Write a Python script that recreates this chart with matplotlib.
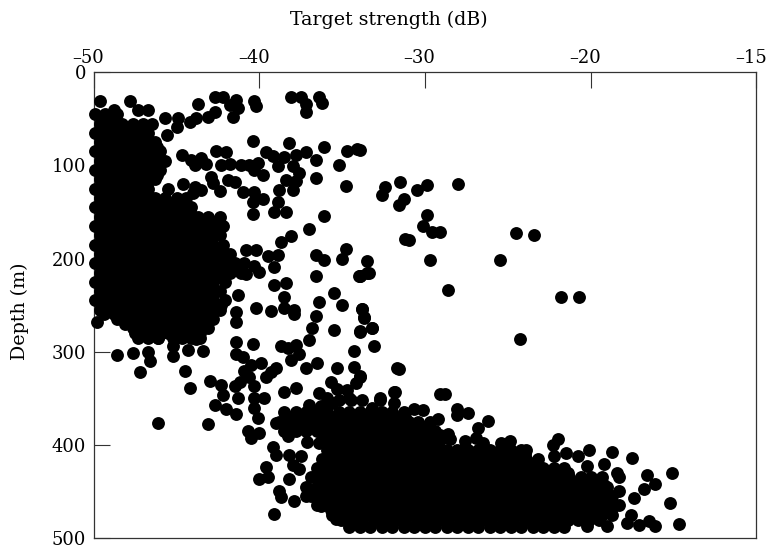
import matplotlib
matplotlib.use('Agg')
import matplotlib.pyplot as plt
from matplotlib.transforms import ScaledTranslation

# x positions are even on the page, the printed labels are not (-20 then -15)
x_tick_pos = [-50, -40, -30, -20, -10]
x_tick_labels = ['\u201350', '\u201340', '\u201330', '\u201320', '\u201315']
y_ticks = [0, 100, 200, 300, 400, 500]

shallow_depths = [45, 55, 65, 75, 85, 95, 105, 115, 125, 135, 145, 155, 165, 175, 185, 195, 205, 215, 225, 235, 245, 255, 265, 275, 285]
shallow_strengths = [
    [-49.9, -49.3, -48.6],
    [-49.6, -48.9, -48.3, -47.6, -47.0, -46.5],
    [-49.9, -49.3, -48.6, -48.0, -47.3, -46.7],
    [-49.6, -48.9, -48.3, -47.6, -47.0, -46.3],
    [-49.9, -49.3, -48.6, -48.0, -47.3, -46.7, -46.0],
    [-49.6, -48.9, -48.3, -47.6, -47.0, -46.3, -45.7],
    [-49.9, -49.3, -48.6, -48.0, -47.3, -46.7, -46.0],
    [-49.6, -48.9, -48.3, -47.6, -47.0, -46.3],
    [-49.9, -49.3, -48.6, -48.0, -47.3, -46.7],
    [-49.6, -48.9, -48.3, -47.6, -47.0, -46.3, -45.7, -45.0, -44.4],
    [-49.9, -49.3, -48.6, -48.0, -47.3, -46.7, -46.0, -45.4, -44.7, -44.1],
    [-49.6, -48.9, -48.3, -47.6, -47.0, -46.3, -45.7, -45.0, -44.4, -43.7, -43.1, -42.4],
    [-49.9, -49.3, -48.6, -48.0, -47.3, -46.7, -46.0, -45.4, -44.7, -44.1, -43.4, -42.8, -42.2],
    [-49.6, -48.9, -48.3, -47.6, -47.0, -46.3, -45.7, -45.0, -44.4, -43.7, -43.1, -42.4],
    [-49.9, -49.3, -48.6, -48.0, -47.3, -46.7, -46.0, -45.4, -44.7, -44.1, -43.4, -42.8, -42.2],
    [-49.6, -48.9, -48.3, -47.6, -47.0, -46.3, -45.7, -45.0, -44.4, -43.7, -43.1, -42.4, -41.8],
    [-49.9, -49.3, -48.6, -48.0, -47.3, -46.7, -46.0, -45.4, -44.7, -44.1, -43.4, -42.8, -42.1, -41.5, -40.9],
    [-49.6, -48.9, -48.3, -47.6, -47.0, -46.3, -45.7, -45.0, -44.4, -43.7, -43.1, -42.4, -41.8, -41.1],
    [-49.9, -49.3, -48.6, -48.0, -47.3, -46.7, -46.0, -45.4, -44.7, -44.1, -43.4, -42.8, -42.1],
    [-49.6, -48.9, -48.3, -47.6, -47.0, -46.3, -45.7, -45.0, -44.4, -43.7, -43.1, -42.4],
    [-49.9, -49.3, -48.6, -48.0, -47.3, -46.7, -46.0, -45.4, -44.7, -44.1, -43.4, -42.8, -42.1],
    [-49.6, -48.9, -48.3, -47.6, -47.0, -46.3, -45.7, -45.0, -44.4, -43.7, -43.1, -42.4],
    [-48.6, -48.0, -47.3, -46.7, -46.0, -45.4, -44.7, -44.1, -43.4, -42.8],
    [-47.6, -47.0, -46.3, -45.7, -45.0, -44.4, -43.7, -43.1],
    [-47.3, -46.7, -46.1, -45.2, -44.7, -44.1, -43.6],
]

# points between those bands, the cluster is solid black here
shallow_mid_depths = [50, 60, 70, 80, 90, 100, 110, 120, 130, 140, 150, 160, 170, 180, 190, 200, 210, 220, 230, 240, 250, 260, 270, 280]
shallow_mid_strengths = [
    [-49.4, -48.8],
    [-49.4, -48.8, -48.1, -47.5, -46.8],
    [-49.4, -48.8, -48.1, -47.5, -46.8],
    [-49.4, -48.8, -48.1, -47.5, -46.8, -46.2],
    [-49.4, -48.8, -48.1, -47.5, -46.8, -46.2],
    [-49.4, -48.8, -48.1, -47.5, -46.8, -46.2],
    [-49.4, -48.8, -48.1, -47.5, -46.8, -46.2],
    [-49.4, -48.8, -48.1, -47.5, -46.8],
    [-49.4, -48.8, -48.1, -47.5, -46.8],
    [-49.4, -48.8, -48.1, -47.5, -46.8, -46.2, -45.5, -44.9],
    [-49.4, -48.8, -48.1, -47.5, -46.8, -46.2, -45.5, -44.9, -44.2],
    [-49.4, -48.8, -48.1, -47.5, -46.8, -46.2, -45.5, -44.9, -44.2, -43.6, -42.9],
    [-49.4, -48.8, -48.1, -47.5, -46.8, -46.2, -45.5, -44.9, -44.2, -43.6, -42.9],
    [-49.4, -48.8, -48.1, -47.5, -46.8, -46.2, -45.5, -44.9, -44.2, -43.6, -42.9],
    [-49.4, -48.8, -48.1, -47.5, -46.8, -46.2, -45.5, -44.9, -44.2, -43.6, -42.9, -42.3],
    [-49.4, -48.8, -48.1, -47.5, -46.8, -46.2, -45.5, -44.9, -44.2, -43.6, -42.9, -42.3],
    [-49.4, -48.8, -48.1, -47.5, -46.8, -46.2, -45.5, -44.9, -44.2, -43.6, -42.9, -42.3, -41.7],
    [-49.4, -48.8, -48.1, -47.5, -46.8, -46.2, -45.5, -44.9, -44.2, -43.6, -42.9, -42.3],
    [-49.4, -48.8, -48.1, -47.5, -46.8, -46.2, -45.5, -44.9, -44.2, -43.6, -42.9],
    [-49.4, -48.8, -48.1, -47.5, -46.8, -46.2, -45.5, -44.9, -44.2, -43.6, -42.9],
    [-49.4, -48.8, -48.1, -47.5, -46.8, -46.2, -45.5, -44.9, -44.2, -43.6, -42.9, -42.3],
    [-49.4, -48.8, -48.1, -47.5, -46.8, -46.2, -45.5, -44.9, -44.2, -43.6, -42.9],
    [-48.1, -47.5, -46.8, -46.2, -45.5, -44.9, -44.2, -43.6],
    [-47.5, -46.8, -46.2, -45.5, -44.9, -44.2, -43.6],
]

# deep cluster, same idea
deep_depths = [365, 375, 385, 395, 405, 415, 425, 435, 445, 455, 465, 475, 488]
deep_strengths = [
    [-38.5, -37.8, -37.2, -36.5, -35.9, -35.2, -34.6, -33.9, -33.3, -32.6, -32.0, -31.3],
    [-38.8, -38.2, -37.5, -36.9, -36.2, -35.6, -34.9, -34.3, -33.6, -33.0, -32.3, -31.7, -31.0, -30.4, -29.7],
    [-38.5, -37.8, -37.2, -36.5, -35.9, -35.2, -34.6, -33.9, -33.3, -32.6, -32.0, -31.3, -30.7, -30.0, -29.4],
    [-36.2, -35.6, -34.9, -34.3, -33.6, -33.0, -32.3, -31.7, -31.0, -30.4, -29.7, -29.1],
    [-35.9, -35.2, -34.6, -33.9, -33.3, -32.6, -32.0, -31.3, -30.7, -30.0, -29.4, -28.7, -28.1, -27.4, -26.8, -26.1, -25.5, -24.8, -24.2],
    [-36.2, -35.6, -34.9, -34.3, -33.6, -33.0, -32.3, -31.7, -31.0, -30.4, -29.7, -29.1, -28.4, -27.8, -27.1, -26.5, -25.8, -25.2, -24.5, -23.9, -23.2],
    [-36.5, -35.9, -35.2, -34.6, -33.9, -33.3, -32.6, -32.0, -31.3, -30.7, -30.0, -29.4, -28.7, -28.1, -27.4, -26.8, -26.1, -25.5, -24.8, -24.2, -23.5, -22.9, -22.2, -21.6],
    [-36.9, -36.2, -35.6, -34.9, -34.3, -33.6, -33.0, -32.3, -31.7, -31.0, -30.4, -29.7, -29.1, -28.4, -27.8, -27.1, -26.5, -25.8, -25.2, -24.5, -23.9, -23.2, -22.6, -21.9, -21.3, -20.6, -20.0, -19.3],
    [-37.2, -36.5, -35.9, -35.2, -34.6, -33.9, -33.3, -32.6, -32.0, -31.3, -30.7, -30.0, -29.4, -28.7, -28.1, -27.4, -26.8, -26.1, -25.5, -24.8, -24.2, -23.5, -22.9, -22.2, -21.6, -20.9, -20.3, -19.6, -19.0],
    [-36.9, -36.2, -35.6, -34.9, -34.3, -33.6, -33.0, -32.3, -31.7, -31.0, -30.4, -29.7, -29.1, -28.4, -27.8, -27.1, -26.5, -25.8, -25.2, -24.5, -23.9, -23.2, -22.6, -21.9, -21.3, -20.6, -20.0, -19.3, -18.7],
    [-36.5, -35.9, -35.2, -34.6, -33.9, -33.3, -32.6, -32.0, -31.3, -30.7, -30.0, -29.4, -28.7, -28.1, -27.4, -26.8, -26.1, -25.5, -24.8, -24.2, -23.5, -22.9, -22.2, -21.6, -20.9, -20.3, -19.6, -19.0, -18.3],
    [-35.6, -34.9, -34.3, -33.6, -33.0, -32.3, -31.7, -31.0, -30.4, -29.7, -29.1, -28.4, -27.8, -27.1, -26.5, -25.8, -25.2, -24.5, -23.9, -23.2, -22.6, -21.9, -21.3, -20.6, -20.0, -19.3, -18.7],
    [-34.6, -33.9, -33.3, -32.6, -32.0, -31.3, -30.7, -30.0, -29.4, -28.7, -28.1, -27.4, -26.8, -26.1, -25.5, -24.8, -24.2, -23.5, -22.9, -22.2, -21.6],
]

deep_mid_depths = [370, 380, 390, 400, 410, 420, 430, 440, 450, 460, 470, 481]
deep_mid_strengths = [
    [-38.3, -37.7, -37.0, -36.4, -35.7, -35.1, -34.4, -33.8, -33.1, -32.5, -31.8, -31.2],
    [-38.3, -37.7, -37.0, -36.4, -35.7, -35.1, -34.4, -33.8, -33.1, -32.5, -31.8, -31.2, -30.5, -29.9],
    [-38.3, -35.7, -35.1, -34.4, -33.8, -33.1, -32.5, -31.8, -31.2, -30.5, -29.9],
    [-35.7, -35.1, -34.4, -33.8, -33.1, -32.5, -31.8, -31.2, -30.5, -29.9, -29.2],
    [-35.7, -35.1, -34.4, -33.8, -33.1, -32.5, -31.8, -31.2, -30.5, -29.9, -29.2, -28.6, -27.9, -27.3, -26.6, -26.0, -25.3, -24.7, -24.0],
    [-35.7, -35.1, -34.4, -33.8, -33.1, -32.5, -31.8, -31.2, -30.5, -29.9, -29.2, -28.6, -27.9, -27.3, -26.6, -26.0, -25.3, -24.7, -24.0, -23.4],
    [-36.4, -35.7, -35.1, -34.4, -33.8, -33.1, -32.5, -31.8, -31.2, -30.5, -29.9, -29.2, -28.6, -27.9, -27.3, -26.6, -26.0, -25.3, -24.7, -24.0, -23.4, -22.7, -22.1, -21.4],
    [-36.4, -35.7, -35.1, -34.4, -33.8, -33.1, -32.5, -31.8, -31.2, -30.5, -29.9, -29.2, -28.6, -27.9, -27.3, -26.6, -26.0, -25.3, -24.7, -24.0, -23.4, -22.7, -22.1, -21.4, -20.8, -20.1, -19.5],
    [-37.0, -36.4, -35.7, -35.1, -34.4, -33.8, -33.1, -32.5, -31.8, -31.2, -30.5, -29.9, -29.2, -28.6, -27.9, -27.3, -26.6, -26.0, -25.3, -24.7, -24.0, -23.4, -22.7, -22.1, -21.4, -20.8, -20.1, -19.5],
    [-36.4, -35.7, -35.1, -34.4, -33.8, -33.1, -32.5, -31.8, -31.2, -30.5, -29.9, -29.2, -28.6, -27.9, -27.3, -26.6, -26.0, -25.3, -24.7, -24.0, -23.4, -22.7, -22.1, -21.4, -20.8, -20.1, -19.5, -18.8],
    [-35.7, -35.1, -34.4, -33.8, -33.1, -32.5, -31.8, -31.2, -30.5, -29.9, -29.2, -28.6, -27.9, -27.3, -26.6, -26.0, -25.3, -24.7, -24.0, -23.4, -22.7, -22.1, -21.4, -20.8, -20.1, -19.5, -18.8],
    [-35.1, -34.4, -33.8, -33.1, -32.5, -31.8, -31.2, -30.5, -29.9, -29.2, -28.6, -27.9, -27.3, -26.6, -26.0, -25.3, -24.7, -24.0, -23.4, -22.7, -22.1, -21.4, -20.8, -20.1, -19.5],
]

# separate points around the clusters
scatter_strength = [
    -49.6, -47.8, -48.8, -47.3, -46.7, -43.7, -42.7, -42.2, -41.4, -41.8, -41.3, -41.6, -40.3, -40.2, -42.7, -43.1,
    -43.8, -44.2, -44.9, -45.7, -45.0, -45.6, -38.1, -37.5, -37.2, -37.2, -36.4, -36.2, -40.4, -38.2, -36.1, -42.6,
    -42.0, -44.7, -44.1, -43.5, -43.2, -43.9, -42.3, -41.8, -41.1, -40.6, -40.1, -40.3, -39.8, -39.6, -39.2, -38.9,
    -38.5, -37.8, -37.2, -36.6, -38.0, -37.6, -38.4, -37.8, -38.0, -36.6, -38.8, -35.2, -34.7, -34.1, -34.8, -42.9,
    -42.8, -42.4, -41.9, -41.5, -41.0, -40.3, -39.8, -40.4, -38.9, -40.4, -39.1, -38.4, -36.1, -44.6, -43.9, -43.5,
    -37.0, -38.1, -38.7, -40.8, -40.2, -39.5, -38.9, -40.3, -40.0, -39.1, -40.8, -36.6, -36.1, -34.8, -35.0, -36.6,
    -34.0, -39.1, -38.4, -35.5, -38.5, -41.3, -33.9, -33.4, -36.4, -35.0, -40.2, -39.3, -38.5, -37.9, -37.9, -41.4,
    -41.4, -36.6, -36.8, -33.8, -33.7, -35.5, -33.9, -33.2, -37.0, -33.1, -34.3, -40.4, -41.4, -41.4, -41.0, -38.7,
    -38.3, -37.8, -37.6, -38.1, -40.5, -39.9, -40.9, -40.6, -41.2, -41.5, -40.3, -39.6, -39.0, -39.3, -37.2, -36.5,
    -35.3, -34.3, -33.9, -34.2, -31.7, -31.9, -37.8, -38.5, -43.0, -42.3, -42.2, -42.7, -42.0, -41.4, -41.3, -40.3,
    -39.7, -40.3, -40.1, -40.7, -40.0, -40.5, -39.0, -33.9, -32.4, -32.6, -31.5, -30.5, -29.9, -28.0, -31.3, -31.6,
    -29.9, -30.1, -29.6, -29.1, -31.2, -31.0, -24.5, -23.4, -29.7, -25.5, -33.5, -33.5, -33.9, -28.6, -21.8, -20.7,
    -33.8, -33.7, -33.2, -24.3, -33.9, -31.6, -33.9, -31.8, -29.1, -28.8, -32.7, -30.7, -30.1, -29.2, -28.1, -28.1,
    -27.4, -26.2, -26.8, -29.1, -28.6, -28.5, -27.6, -26.9, -26.5, -25.4, -24.9, -23.9, -22.0, -22.3, -22.2, -21.5,
    -20.8, -20.1, -18.7, -17.5, -19.2, -20.2, -18.4, -18.3, -16.6, -16.1, -16.8, -15.1, -15.2, -17.4, -18.3, -19.2,
    -17.1, -16.5, -16.1, -14.7, -17.8, -17.6, -19.0, -20.2, -20.8, -21.6, -48.6, -47.6, -46.7, -46.6, -47.2, -45.2,
    -44.5, -44.2, -44.3, -43.4, -43.8, -46.1, -45.2, -46.1, -43.1, -49.8, -39.2, -39.0, -38.2, -37.5, -38.0, -37.6,
    -39.6, -40.0, -39.5, -38.2, -38.8, -38.7, -37.9, -39.1, -37.2, -36.3, -35.4, -37.1, -36.4, -36.4, -35.7, -35.3,
    -34.7, -35.9, -35.2, -34.5, -37.0, -36.3, -33.8, -32.7, -31.9, -33.2, -34.6, -35.6, -45.5, -44.0,
]
scatter_depth = [
    31, 31, 41, 40, 41, 34, 26, 27, 30, 35, 38, 48, 31, 36, 43, 48,
    49, 53, 49, 49, 59, 67, 26, 27, 34, 43, 27, 33, 74, 76, 80, 85,
    86, 89, 94, 92, 98, 99, 99, 98, 99, 99, 97, 105, 110, 86, 90, 101,
    91, 89, 86, 94, 101, 108, 116, 117, 126, 114, 126, 99, 84, 82, 122, 112,
    119, 127, 116, 118, 128, 129, 136, 139, 139, 152, 150, 150, 154, 120, 123, 126,
    168, 176, 182, 191, 191, 197, 196, 208, 214, 209, 217, 196, 201, 190, 200, 219,
    219, 228, 226, 237, 241, 239, 219, 215, 247, 250, 253, 256, 253, 255, 260, 257,
    268, 262, 274, 254, 264, 277, 279, 275, 287, 294, 299, 292, 290, 302, 306, 294,
    296, 293, 302, 309, 314, 312, 321, 327, 332, 337, 337, 327, 318, 322, 318, 312,
    317, 316, 327, 334, 318, 343, 339, 343, 331, 336, 347, 357, 361, 367, 350, 350,
    350, 360, 371, 385, 387, 393, 377, 83, 123, 132, 118, 126, 121, 120, 136, 142,
    153, 165, 171, 171, 179, 180, 173, 175, 201, 201, 203, 215, 219, 234, 241, 241,
    254, 263, 275, 286, 278, 319, 326, 343, 345, 345, 352, 362, 363, 372, 361, 368,
    366, 374, 382, 389, 388, 394, 396, 393, 398, 398, 396, 405, 394, 400, 412, 409,
    412, 406, 408, 414, 421, 423, 430, 435, 432, 442, 447, 430, 462, 457, 450, 443,
    486, 482, 487, 485, 484, 475, 487, 487, 480, 479, 304, 301, 300, 310, 322, 305,
    321, 339, 298, 299, 286, 285, 294, 377, 378, 268, 402, 411, 411, 412, 422, 426,
    424, 437, 434, 437, 450, 456, 460, 474, 455, 466, 480, 397, 398, 344, 333, 340,
    341, 350, 352, 352, 357, 358, 352, 350, 355, 360, 350, 355, 125, 130,
]

x_vals = list(scatter_strength)
y_vals = list(scatter_depth)
bands = [(shallow_depths, shallow_strengths), (shallow_mid_depths, shallow_mid_strengths),
         (deep_depths, deep_strengths), (deep_mid_depths, deep_mid_strengths)]
for depths, rows in bands:
    for d, row in zip(depths, rows):
        x_vals += row
        y_vals += [d] * len(row)

plt.rcParams['font.family'] = ['DejaVu Serif']

fig = plt.figure(figsize=(7.68, 5.48), dpi=100)
ax = fig.add_axes([93.7 / 768, 1 - 538 / 548, (756.5 - 93.7) / 768, (538 - 72.3) / 548])

ax.scatter(x_vals, y_vals, s=86, c='black', linewidths=0, clip_on=False, zorder=3)

ax.set_xlim(-50, -10)
ax.set_ylim(500, 0)
ax.set_xticks(x_tick_pos)
ax.set_xticklabels(x_tick_labels)
ax.set_yticks(y_ticks)
ax.xaxis.tick_top()
ax.tick_params(axis='both', direction='in', length=11.5, width=0.8, color='#333333', labelsize=13)
ax.tick_params(axis='x', pad=4)
ax.tick_params(axis='y', pad=5.5)
# printed labels sit a little left of their ticks
shift = ScaledTranslation(-5.5 / 100, 0, fig.dpi_scale_trans)
for lab in ax.get_xticklabels():
    lab.set_transform(lab.get_transform() + shift)
for side in ax.spines:
    ax.spines[side].set_linewidth(0.9)
    ax.spines[side].set_color('#333333')

fig.text(389 / 768, 1 - 20 / 548, 'Target strength (dB)', fontsize=13.7, ha='center', va='center')
fig.text(20 / 768, 1 - 311 / 548, 'Depth (m)', fontsize=13.7, rotation=90, ha='center', va='center')

fig.savefig('out.png', dpi=100)
